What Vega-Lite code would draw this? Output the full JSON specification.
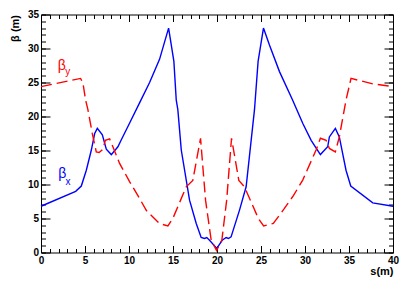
{
  "$schema": "https://vega.github.io/schema/vega-lite/v6.json",
  "width": 352,
  "height": 238,
  "autosize": "none",
  "padding": {"left": 41, "top": 14.5, "right": 22, "bottom": 28.5},
  "background": "white",
  "config": {
    "view": {"stroke": null},
    "axis": {"grid": false, "tickColor": "black", "domainColor": "black", "labelColor": "black", "titleColor": "black", "labelFont": "Liberation Sans", "labelFontWeight": "bold", "labelFontSize": 10, "titleFont": "Liberation Sans", "titleFontWeight": "bold", "titleFontSize": 11, "labelFlush": false, "labelOverlap": false, "tickWidth": 1, "domainWidth": 1}
  },
  "resolve": {"axis": {"x": "independent", "y": "independent"}},
  "datasets": {
    "bx": [
      {"s": 0, "b": 6.8}, {"s": 3.94, "b": 9.0}, {"s": 4.58, "b": 9.77}, {"s": 5.15, "b": 12.1}, {"s": 5.72, "b": 15.07}, {"s": 6.1, "b": 17.5}, {"s": 6.4, "b": 18.26}, {"s": 6.97, "b": 17.3}, {"s": 7.42, "b": 15.2}, {"s": 7.99, "b": 14.4}, {"s": 8.74, "b": 15.55}, {"s": 9.1, "b": 16.5}, {"s": 10.06, "b": 19.0}, {"s": 11.2, "b": 22.0}, {"s": 12.34, "b": 25.0}, {"s": 13.47, "b": 28.4}, {"s": 14.5, "b": 33.0}, {"s": 15.1, "b": 28.1}, {"s": 15.37, "b": 22.4}, {"s": 15.55, "b": 21.0}, {"s": 15.94, "b": 15.07}, {"s": 16.88, "b": 7.7}, {"s": 17.64, "b": 4.27}, {"s": 18.2, "b": 2.2}, {"s": 18.58, "b": 2.06}, {"s": 18.84, "b": 2.2}, {"s": 19.15, "b": 1.8}, {"s": 19.98, "b": 0.6}, {"s": 20.59, "b": 1.8}, {"s": 21.04, "b": 2.2}, {"s": 21.3, "b": 2.06}, {"s": 21.6, "b": 2.3}, {"s": 22.55, "b": 6.2}, {"s": 23.31, "b": 9.66}, {"s": 24.26, "b": 21.0}, {"s": 24.67, "b": 28.1}, {"s": 25.28, "b": 33.0}, {"s": 25.96, "b": 30.5}, {"s": 27.1, "b": 26.6}, {"s": 28.6, "b": 22.4}, {"s": 29.74, "b": 19.0}, {"s": 30.7, "b": 16.5}, {"s": 31.75, "b": 14.4}, {"s": 32.58, "b": 15.55}, {"s": 32.77, "b": 17.0}, {"s": 33.45, "b": 18.26}, {"s": 33.9, "b": 17.0}, {"s": 34.66, "b": 12.1}, {"s": 35.2, "b": 9.77}, {"s": 37.7, "b": 7.3}, {"s": 40, "b": 6.8}
    ],
    "by": [
      {"s": 0, "b": 24.4}, {"s": 4.5, "b": 25.6}, {"s": 4.77, "b": 24.9}, {"s": 5.07, "b": 22.4}, {"s": 5.33, "b": 21.0}, {"s": 5.83, "b": 17.5}, {"s": 6.28, "b": 14.8}, {"s": 6.6, "b": 14.7}, {"s": 7.04, "b": 15.2}, {"s": 7.31, "b": 16.5}, {"s": 7.8, "b": 16.7}, {"s": 8.17, "b": 15.55}, {"s": 8.93, "b": 13.1}, {"s": 10.08, "b": 10.4}, {"s": 11.2, "b": 7.95}, {"s": 11.96, "b": 6.2}, {"s": 13.47, "b": 4.27}, {"s": 14.42, "b": 3.9}, {"s": 14.98, "b": 5.0}, {"s": 16.5, "b": 9.66}, {"s": 17.25, "b": 10.6}, {"s": 18.13, "b": 16.8}, {"s": 18.7, "b": 7.7}, {"s": 19.34, "b": 1.8}, {"s": 19.95, "b": 0.3}, {"s": 20.55, "b": 1.8}, {"s": 21.1, "b": 7.7}, {"s": 21.65, "b": 16.8}, {"s": 22.48, "b": 10.6}, {"s": 23.12, "b": 9.66}, {"s": 24.7, "b": 5.0}, {"s": 25.3, "b": 3.9}, {"s": 26.4, "b": 4.27}, {"s": 27.66, "b": 6.48}, {"s": 28.7, "b": 8.4}, {"s": 29.74, "b": 10.65}, {"s": 31.26, "b": 15.07}, {"s": 31.75, "b": 16.8}, {"s": 32.4, "b": 16.5}, {"s": 32.77, "b": 15.3}, {"s": 33.45, "b": 14.8}, {"s": 33.9, "b": 17.0}, {"s": 34.66, "b": 22.4}, {"s": 35.23, "b": 25.6}, {"s": 37.7, "b": 24.8}, {"s": 40, "b": 24.4}
    ],
    "sym": [
      {"s": 1.9, "b": 26.9, "t": "β", "c": "y"},
      {"s": 1.95, "b": 10.9, "t": "β", "c": "x"}
    ],
    "sub": [
      {"s": 2.75, "b": 26.1, "t": "y", "c": "y"},
      {"s": 2.77, "b": 9.9, "t": "x", "c": "x"}
    ]
  },
  "layer": [
    {
      "data": {"name": "bx"},
      "mark": {"type": "line", "color": "#0000ff", "strokeWidth": 1.4},
      "encoding": {
        "x": {"field": "s", "type": "quantitative", "scale": {"domain": [0, 40], "nice": false, "zero": false},
          "axis": {"orient": "bottom", "values": [0, 5, 10, 15, 20, 25, 30, 35, 40], "tickSize": -7, "labelPadding": 10, "title": "s(m)", "titleAnchor": "end", "titleAlign": "right", "titleX": 352, "titleY": 22, "titleBaseline": "alphabetic"}},
        "y": {"field": "b", "type": "quantitative", "scale": {"domain": [0, 35], "nice": false, "zero": false},
          "axis": {"orient": "left", "values": [0, 5, 10, 15, 20, 25, 30, 35], "tickSize": -9, "labelPadding": 11.5, "title": "β (m)", "titleAngle": -90, "titleAlign": "right", "titleBaseline": "bottom", "titleX": -21, "titleY": 0}}
      }
    },
    {
      "data": {"name": "by"},
      "mark": {"type": "line", "color": "#ff0000", "strokeWidth": 1.4, "strokeDash": [11, 5]},
      "encoding": {
        "x": {"field": "s", "type": "quantitative",
          "axis": {"orient": "bottom", "values": [0,1,2,3,4,5,6,7,8,9,10,11,12,13,14,15,16,17,18,19,20,21,22,23,24,25,26,27,28,29,30,31,32,33,34,35,36,37,38,39,40], "tickSize": -4, "labels": false, "domain": false, "title": null}},
        "y": {"field": "b", "type": "quantitative",
          "axis": {"orient": "left", "values": [0,1,2,3,4,5,6,7,8,9,10,11,12,13,14,15,16,17,18,19,20,21,22,23,24,25,26,27,28,29,30,31,32,33,34,35], "tickSize": -4.5, "labels": false, "domain": false, "title": null}}
      }
    },
    {
      "data": {"name": "sym"},
      "mark": {"type": "text", "align": "left", "baseline": "alphabetic", "font": "Liberation Sans", "fontSize": 14},
      "encoding": {
        "x": {"field": "s", "type": "quantitative",
          "axis": {"orient": "top", "values": [0, 5, 10, 15, 20, 25, 30, 35, 40], "tickSize": -7, "labels": false, "domain": true, "title": null}},
        "y": {"field": "b", "type": "quantitative",
          "axis": {"orient": "right", "values": [0, 5, 10, 15, 20, 25, 30, 35], "tickSize": -9, "labels": false, "domain": true, "title": null}},
        "text": {"field": "t"},
        "color": {"field": "c", "type": "nominal", "scale": {"domain": ["x", "y"], "range": ["#0000ff", "#ff0000"]}, "legend": null}
      }
    },
    {
      "data": {"name": "sub"},
      "mark": {"type": "text", "align": "left", "baseline": "alphabetic", "font": "Liberation Sans", "fontSize": 10},
      "encoding": {
        "x": {"field": "s", "type": "quantitative",
          "axis": {"orient": "top", "values": [0,1,2,3,4,5,6,7,8,9,10,11,12,13,14,15,16,17,18,19,20,21,22,23,24,25,26,27,28,29,30,31,32,33,34,35,36,37,38,39,40], "tickSize": -4, "labels": false, "domain": false, "title": null}},
        "y": {"field": "b", "type": "quantitative",
          "axis": {"orient": "right", "values": [0,1,2,3,4,5,6,7,8,9,10,11,12,13,14,15,16,17,18,19,20,21,22,23,24,25,26,27,28,29,30,31,32,33,34,35], "tickSize": -4.5, "labels": false, "domain": false, "title": null}},
        "text": {"field": "t"},
        "color": {"field": "c", "type": "nominal", "scale": {"domain": ["x", "y"], "range": ["#0000ff", "#ff0000"]}, "legend": null}
      }
    }
  ]
}
